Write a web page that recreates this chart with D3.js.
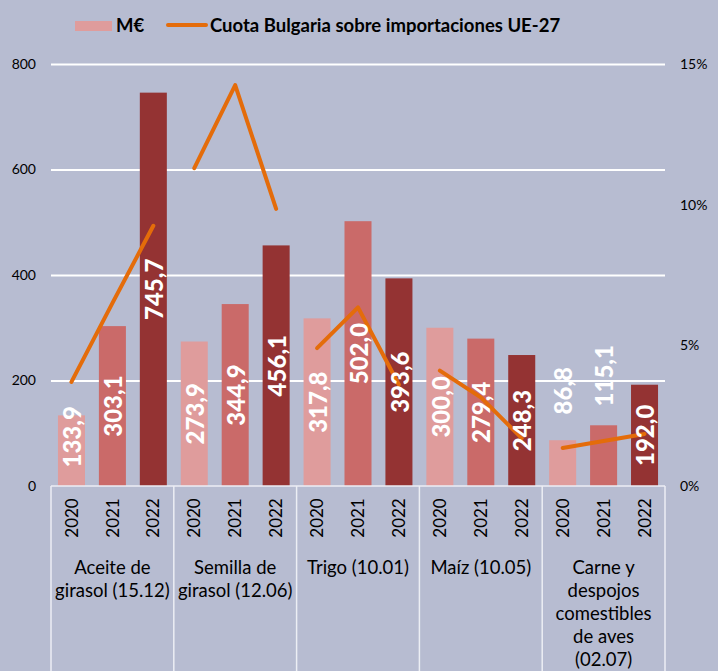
<!DOCTYPE html>
<html>
<head>
<meta charset="utf-8">
<script src="https://cdn.jsdelivr.net/npm/d3@7"></script>
<style>
  html, body { margin: 0; padding: 0; background: #b7bcd1; }
  svg { display: block; font-family: Lato, "Open Sans", sans-serif; }
</style>
</head>
<body>
<svg></svg>
<script>
(function () {
  var width = 718, height = 671;

  // categories (multi-line labels)
  var productos = [
    ["Aceite de", "girasol (15.12)"],
    ["Semilla de", "girasol (12.06)"],
    ["Trigo (10.01)"],
    ["Maíz (10.05)"],
    ["Carne y", "despojos", "comestibles", "de aves", "(02.07)"]
  ];
  var anios = ["2020", "2021", "2022"];

  // M€ per year
  var m2020 = [133.9, 273.9, 317.8, 300.0, 86.8];
  var m2021 = [303.1, 344.9, 502.0, 279.4, 115.1];
  var m2022 = [745.7, 456.1, 393.6, 248.3, 192.0];

  // Cuota Bulgaria sobre importaciones UE-27 (%)
  var c2020 = [3.7, 11.3, 4.9, 4.1, 1.35];
  var c2021 = [6.5, 14.25, 6.35, 3.15, 1.6];
  var c2022 = [9.25, 9.85, 3.6, 1.7, 1.85];

  var leftTicks = [0, 200, 400, 600, 800];
  var rightTicks = [0, 5, 10, 15];

  var colors = ["#df9c9c", "#ca6a69", "#943333"];
  var orange = "#e46c0a";

  var svg = d3.select("svg").attr("width", width).attr("height", height);
  var margin = {top: 64, left: 51, right: 53, bottom: 185};
  var x0 = d3.scaleBand().domain(d3.range(productos.length))
        .range([margin.left, width - margin.right]);
  var x1 = d3.scaleBand().domain(anios)
        .range([0, x0.bandwidth()]).paddingInner(0.34).paddingOuter(0.17);
  var y = d3.scaleLinear().domain([0, 800]).range([height - margin.bottom, margin.top]);
  var y2 = d3.scaleLinear().domain([0, 15]).range([height - margin.bottom, margin.top]);

  var series = [m2020, m2021, m2022];
  var cuotas = [c2020, c2021, c2022];

  // gridlines
  svg.append("g")
    .attr("transform", "translate(" + margin.left + ",0)")
    .call(d3.axisLeft(y).tickValues(leftTicks.slice(1))
      .tickSize(-(width - margin.left - margin.right)).tickFormat(""))
    .call(function (g) {
      g.select(".domain").remove();
      g.selectAll("line").attr("stroke", "#ffffff").attr("stroke-width", 2);
    });

  // left axis labels
  svg.append("g")
    .attr("transform", "translate(" + margin.left + ",0)")
    .call(d3.axisLeft(y).tickValues(leftTicks).tickSize(0).tickPadding(15))
    .call(function (g) {
      g.select(".domain").remove();
      g.selectAll("text").attr("font-size", 14).attr("fill", "#000")
        .attr("font-family", "Lato, sans-serif");
    });

  // right axis labels
  svg.append("g")
    .attr("transform", "translate(" + (width - margin.right) + ",0)")
    .call(d3.axisRight(y2).tickValues(rightTicks).tickSize(0).tickPadding(15)
      .tickFormat(function (d) { return d + "%"; }))
    .call(function (g) {
      g.select(".domain").remove();
      g.selectAll("text").attr("font-size", 14).attr("fill", "#000")
        .attr("font-family", "Lato, sans-serif");
    });

  // bars
  var groups = svg.selectAll(".grupo")
    .data(productos)
    .enter().append("g")
    .attr("class", "grupo")
    .attr("transform", function (d, i) { return "translate(" + x0(i) + ",0)"; });

  var bars = groups.selectAll("rect")
    .data(function (d, i) {
      return anios.map(function (a, j) { return {i: i, j: j, anio: a, v: series[j][i], c: cuotas[j][i]}; });
    })
    .enter();

  bars.append("rect")
    .attr("x", function (d) { return x1(d.anio); })
    .attr("y", function (d) { return y(d.v); })
    .attr("width", x1.bandwidth())
    .attr("height", function (d) { return y(0) - y(d.v); })
    .attr("fill", function (d) { return colors[d.j]; });

  // axis baseline + separators
  var base = y(0);
  svg.append("line")
    .attr("x1", margin.left).attr("x2", width - margin.right)
    .attr("y1", base).attr("y2", base)
    .attr("stroke", "#eceef4").attr("stroke-width", 1.5);
  svg.selectAll(".sep")
    .data(d3.range(productos.length + 1))
    .enter().append("line")
    .attr("class", "sep")
    .attr("x1", function (d) { return d < productos.length ? x0(d) : x0(d - 1) + x0.bandwidth(); })
    .attr("x2", function (d) { return d < productos.length ? x0(d) : x0(d - 1) + x0.bandwidth(); })
    .attr("y1", base).attr("y2", height)
    .attr("stroke", "#eceef4").attr("stroke-width", 1.5);

  // cuota lines (one per product)
  var line = d3.line()
    .x(function (d) { return x1(d.anio) + x1.bandwidth() / 2; })
    .y(function (d) { return y2(d.c); });
  groups.append("path")
    .datum(function (d, i) {
      return anios.map(function (a, j) { return {anio: a, c: cuotas[j][i]}; });
    })
    .attr("d", line)
    .attr("fill", "none")
    .attr("stroke", orange)
    .attr("stroke-width", 4)
    .attr("stroke-linecap", "round")
    .attr("stroke-linejoin", "round");

  // value labels (rotated, white bold)
  var fmt = function (v) { return v.toFixed(1).replace(".", ","); };
  var labelLen = 63;
  bars.append("text")
    .attr("transform", function (d) {
      var cx = x1(d.anio) + x1.bandwidth() / 2;
      var top = y(d.v), h = base - top, cy;
      if (h > labelLen + 16) cy = (top + base) / 2;
      else if (h > labelLen) cy = top - 10 + labelLen / 2;
      else cy = top - 18 - labelLen / 2;
      return "translate(" + (cx + 1) + "," + cy + ") rotate(-90)";
    })
    .attr("text-anchor", "middle")
    .attr("dy", "0.36em")
    .attr("fill", "#fff")
    .attr("font-weight", 900)
    .attr("font-size", 24)
    .text(function (d) { return fmt(d.v); });

  // year labels
  groups.selectAll(".anio")
    .data(anios)
    .enter().append("text")
    .attr("class", "anio")
    .attr("transform", function (d) {
      return "translate(" + (x1(d) + x1.bandwidth() / 2) + "," + (base + 32) + ") rotate(-90)";
    })
    .attr("text-anchor", "middle")
    .attr("dy", "0.36em")
    .attr("font-size", 17)
    .attr("fill", "#000")
    .text(function (d) { return d; });

  // category labels
  groups.append("text")
    .attr("x", x0.bandwidth() / 2)
    .attr("y", base + 88)
    .attr("text-anchor", "middle")
    .attr("font-size", 18.5)
    .attr("fill", "#000")
    .selectAll("tspan")
    .data(function (d) { return d; })
    .enter().append("tspan")
    .attr("x", x0.bandwidth() / 2)
    .attr("dy", function (d, i) { return i === 0 ? 0 : 23; })
    .text(function (d) { return d; });

  // legend
  var lg = svg.append("g").attr("font-weight", "bold").attr("font-size", 18.5).attr("fill", "#000");
  lg.append("rect").attr("x", 75).attr("y", 21).attr("width", 37).attr("height", 10).attr("fill", colors[0]);
  lg.append("text").attr("x", 116).attr("y", 32).text("M€");
  lg.append("line").attr("x1", 168).attr("x2", 206).attr("y1", 25).attr("y2", 25)
    .attr("stroke", orange).attr("stroke-width", 4).attr("stroke-linecap", "round");
  lg.append("text").attr("x", 210).attr("y", 32).text("Cuota Bulgaria sobre importaciones UE-27");
})();
</script>
</body>
</html>
